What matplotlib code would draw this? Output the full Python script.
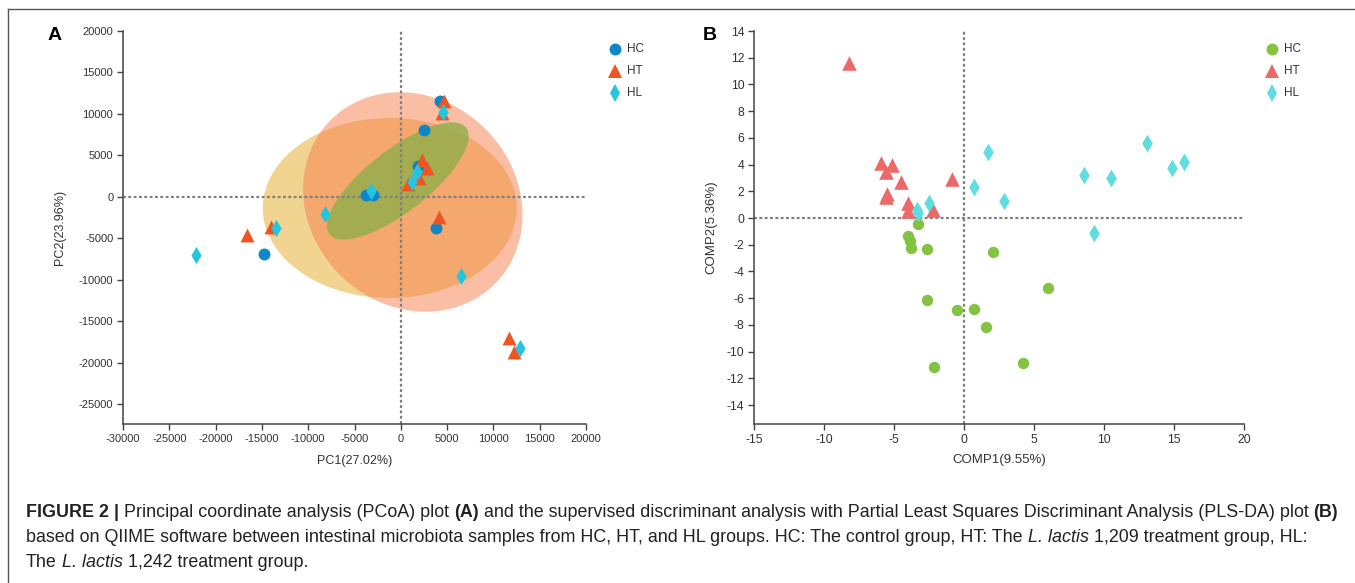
import matplotlib
matplotlib.use('Agg')
import matplotlib.pyplot as plt
import numpy as np
from matplotlib.lines import Line2D
from matplotlib import font_manager

# ---------------- data ----------------
groups = ['HC', 'HT', 'HL']

# Panel A : PCoA
pcoa_hc_x = [4200, 2480, 1840, -3780, -3020, 3780, -14800]
pcoa_hc_y = [11560, 8070, 3730, 240, 240, -3730, -6870]
pcoa_ht_x = [4640, 4430, 2270, 2810, 760, 1940, 4100, -16630, -14040, 11660, 12200]
pcoa_ht_y = [11570, 10120, 4460, 3490, 1570, 2290, -2400, -4580, -3610, -16990, -18670]
pcoa_hl_x = [4540, 1190, 1730, -3240, -8210, -13500, -22140, 6480, 12850]
pcoa_hl_y = [10240, 1810, 3010, 720, -2050, -3730, -6990, -9520, -18190]

# confidence ellipses: centre, two conjugate semi-axis vectors (data units)
ell_hc_center = (-1190, -1325)
ell_hc_axes = ((13716, 0), (0, 10845))
ell_ht_center = (1296, -600)
ell_ht_axes = ((8856, -9881), (7866, 8778))
ell_hl_center = (-324, 1928)
ell_hl_axes = ((7366, 6423), (-2063, 2940))

pcoa_xticks = list(range(-30000, 20001, 5000))
pcoa_yticks = list(range(-25000, 20001, 5000))

# Panel B : PLS-DA
plsda_hc_x = [-3.26, -3.98, -3.86, -3.81, -2.67, 2.05, 6.02, -2.67, -0.52, 0.74, 1.57, -2.12, 4.21]
plsda_hc_y = [-0.45, -1.35, -1.72, -2.22, -2.35, -2.57, -5.24, -6.14, -6.86, -6.84, -8.18, -11.18, -10.83]
plsda_ht_x = [-8.21, -5.93, -5.17, -5.59, -4.52, -5.48, -5.6, -4.02, -3.98, -2.24, -0.88]
plsda_ht_y = [11.58, 4.14, 3.97, 3.42, 2.72, 1.8, 1.55, 1.1, 0.5, 0.6, 2.9]
plsda_hl_x = [-3.33, -3.3, -2.48, 0.71, 1.69, 2.86, 8.59, 10.52, 13.07, 14.88, 15.71, 9.31]
plsda_hl_y = [0.6, 0.35, 1.15, 2.35, 4.92, 1.3, 3.22, 2.97, 5.64, 3.74, 4.19, -1.1]

plsda_xticks = list(range(-15, 21, 5))
plsda_yticks = list(range(-14, 15, 2))

# ---------------- figure ----------------
W, H, DPI = 1355, 583, 100
FONT = 'Liberation Sans'
plt.rcParams['font.family'] = [FONT, 'DejaVu Sans']
plt.rcParams['axes.unicode_minus'] = False
fig = plt.figure(figsize=(W / DPI, H / DPI), dpi=DPI)


def fx(px):
    return px / W


def fy(py):
    return 1 - py / H


def ellipse_xy(center, axes, n=200):
    t = np.linspace(0, 2 * np.pi, n)
    (ax_, ay_), (bx_, by_) = axes
    x = center[0] + ax_ * np.cos(t) + bx_ * np.sin(t)
    y = center[1] + ay_ * np.cos(t) + by_ * np.sin(t)
    return x, y


def style(ax, fs):
    for s in ['top', 'right']:
        ax.spines[s].set_visible(False)
    for s in ['left', 'bottom']:
        ax.spines[s].set_color('#444444')
        ax.spines[s].set_linewidth(1.1)
    ax.tick_params(direction='out', length=4, width=1.0, colors='#444444',
                   labelcolor='#333333', labelsize=fs, pad=3)


refline = dict(color='#808080', lw=1.6, ls=(0, (1.3, 1.1)), zorder=2)

# ---------- Panel A ----------
axA = fig.add_axes([fx(123), fy(424), fx(586) - fx(123), fy(31) - fy(424)])
style(axA, 8)
axA.set_xlim(-30000, 20000)
axA.set_ylim(-27350, 20000)
axA.set_xticks(pcoa_xticks)
axA.set_yticks(pcoa_yticks)

ex, ey = ellipse_xy(ell_hc_center, ell_hc_axes)
axA.fill(ex, ey, color='#f2d491', lw=0, zorder=1)
sx, sy = ellipse_xy(ell_ht_center, ell_ht_axes)
salmon = axA.fill(sx, sy, color='#fabea5', lw=0, zorder=1.1)[0]
inter = axA.fill(ex, ey, color='#f5a86e', lw=0, zorder=1.2)[0]
inter.set_clip_path(salmon)
gx, gy = ellipse_xy(ell_hl_center, ell_hl_axes)
axA.fill(gx, gy, color='#8fae4a', alpha=0.8, lw=0, zorder=1.3)

axA.axhline(0, **refline)
axA.axvline(0, **refline)

colA = {'HC': '#0f86c8', 'HT': '#ee5522', 'HL': '#22c6e0'}
axA.scatter(pcoa_hc_x, pcoa_hc_y, marker='o', s=8.6 ** 2, color=colA['HC'], lw=0, zorder=3)
axA.scatter(pcoa_ht_x, pcoa_ht_y, marker='^', s=10 ** 2, color=colA['HT'], lw=0, zorder=3)
axA.scatter(pcoa_hl_x, pcoa_hl_y, marker='d', s=8.7 ** 2, color=colA['HL'], lw=0, zorder=3)

axA.set_xlabel('PC1(27.02%)', fontsize=9, color='#333333', labelpad=8)
axA.set_ylabel('PC2(23.96%)', fontsize=9, color='#333333', labelpad=9)

# ---------- Panel B ----------
axB = fig.add_axes([fx(754), fy(424), fx(1244) - fx(754), fy(31) - fy(424)])
style(axB, 8.7)
axB.set_xlim(-15, 20)
axB.set_ylim(-15.42, 14)
axB.set_xticks(plsda_xticks)
axB.set_yticks(plsda_yticks)
axB.axhline(0, **refline)
axB.axvline(0, **refline)

colB = {'HC': '#84c341', 'HT': '#eb6969', 'HL': '#5fdde1'}
axB.scatter(plsda_hc_x, plsda_hc_y, marker='o', s=8.2 ** 2, color=colB['HC'], lw=0, zorder=3)
axB.scatter(plsda_ht_x, plsda_ht_y, marker='^', s=10.5 ** 2, color=colB['HT'], lw=0, zorder=3)
axB.scatter(plsda_hl_x, plsda_hl_y, marker='d', s=9 ** 2, color=colB['HL'], lw=0, zorder=3)

axB.set_xlabel('COMP1(9.55%)', fontsize=9.5, color='#333333', labelpad=6)
axB.set_ylabel('COMP2(5.36%)', fontsize=9.5, color='#333333', labelpad=7)

# ---------- legends ----------
mk = {'HC': ('o', 8.6), 'HT': ('^', 10), 'HL': ('d', 8.7)}


def legend(xm, y0, cols, fs):
    for i, g in enumerate(groups):
        y = y0 + i * 22
        m, ms = mk[g]
        fig.add_artist(Line2D([fx(xm)], [fy(y)], marker=m, markersize=ms, ls='none',
                              color=cols[g], markeredgewidth=0))
        fig.text(fx(xm + 12), fy(y), g, fontsize=fs, color='#333333', va='center', ha='left')


legend(615, 49, colA, 8.5)
legend(1272, 49, colB, 8.5)

# ---------- panel letters ----------
fig.text(fx(55), fy(35), 'A', fontsize=14, fontweight='bold', ha='center', va='center')
fig.text(fx(710), fy(35), 'B', fontsize=14, fontweight='bold', ha='center', va='center')

# ---------- frame ----------
fig.add_artist(Line2D([fx(8), fx(8)], [fy(9), 0], color='#555555', lw=1))
fig.add_artist(Line2D([fx(8), 1], [fy(9), fy(9)], color='#555555', lw=1))

# ---------- caption ----------
cap_lines = [
    [('FIGURE 2 |', 'bold', 'normal'), ('Principal coordinate analysis (PCoA) plot', 'normal', 'normal'),
     ('(A)', 'bold', 'normal'),
     ('and the supervised discriminant analysis with Partial Least Squares Discriminant Analysis (PLS-DA) plot',
      'normal', 'normal'), ('(B)', 'bold', 'normal')],
    [('based on QIIME software between intestinal microbiota samples from HC, HT, and HL groups. HC: The control group, HT: The',
      'normal', 'normal'), ('L. lactis', 'normal', 'italic'),
     ('1,209 treatment group, HL:', 'normal', 'normal')],
    [('The', 'normal', 'normal'), ('L. lactis', 'normal', 'italic'),
     ('1,242 treatment group.', 'normal', 'normal')],
]
cap_base = [517, 542, 567]
names = {f.name for f in font_manager.fontManager.ttflist}
cap_family = 'Liberation Sans Narrow' if 'Liberation Sans Narrow' in names else 'Liberation Sans'

renderer = fig.canvas.get_renderer()


def draw_caption(size):
    arts = []
    widths = []
    sp = fig.text(0, 0, 'a a', fontsize=size, family=cap_family)
    sp2 = fig.text(0, 0, 'aa', fontsize=size, family=cap_family)
    space = sp.get_window_extent(renderer).width - sp2.get_window_extent(renderer).width
    sp.remove(); sp2.remove()
    for line, yb in zip(cap_lines, cap_base):
        x = 26
        for j, (txt, wt, st) in enumerate(line):
            if j > 0:
                x += space
            t = fig.text(fx(x), fy(yb), txt, fontsize=size, fontweight=wt, fontstyle=st,
                         family=cap_family, va='baseline', ha='left', color='#222222')
            arts.append(t)
            x += t.get_window_extent(renderer).width
        widths.append(x - 26)
    return arts, widths


arts, widths = draw_caption(10)
scale = 1310 / widths[0]
for a in arts:
    a.remove()
draw_caption(10 * scale)

fig.savefig('out.png', dpi=DPI)
